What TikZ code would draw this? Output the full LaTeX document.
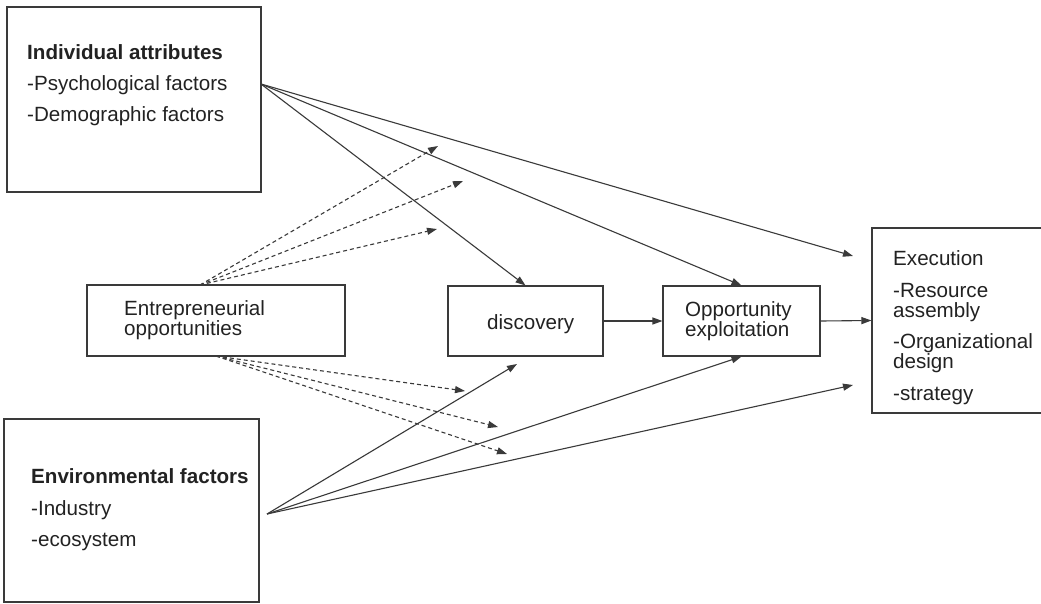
\documentclass[tikz,border=0pt]{standalone}
\usepackage{fontspec}
\setmainfont{Liberation Sans}
\usetikzlibrary{arrows.meta}
\definecolor{ink}{HTML}{3A3A3A}
\definecolor{txt}{HTML}{222222}
\begin{document}
\begin{tikzpicture}[x=1pt,y=-1pt,
  box/.style={draw=ink,line width=1.1pt,inner sep=0pt},
  lbl/.style={anchor=base west,inner sep=0pt,text=txt,font=\fontsize{20.6}{24}\selectfont},
  boldlbl/.style={lbl,font=\fontsize{20.6}{24}\selectfont\bfseries},
  conn/.style={draw=ink,line width=1.1pt,-{Triangle[length=10pt,width=7pt]}},
  dconn/.style={conn,dash pattern=on 4pt off 3pt}]
\useasboundingbox (0,0) rectangle (1041,603);
\fill[white] (0,0) rectangle (1041,603);
% boxes
\node[box,minimum width=254pt,minimum height=185pt] (ia) at (134,99.5) {};
\node[box,minimum width=258pt,minimum height=71pt] (ent) at (216,320.5) {};
\node[box,minimum width=255pt,minimum height=183pt] (env) at (131.5,510.5) {};
\node[box,minimum width=155pt,minimum height=70pt] (disc) at (525.5,321) {};
\node[box,minimum width=157pt,minimum height=70pt] (opp) at (741.5,321) {};
\node[box,minimum width=178pt,minimum height=185pt] (exe) at (961,320.5) {};
% texts
\node[boldlbl] (ia1) at (27,59) {Individual attributes};
\node[lbl] (ia2) at (27,90) {-Psychological factors};
\node[lbl] (ia3) at (27,121) {-Demographic factors};
\node[lbl] (ent1) at (124,315) {Entrepreneurial};
\node[lbl] (ent2) at (124,335) {opportunities};
\node[boldlbl] (env1) at (31,483) {Environmental factors};
\node[lbl] (env2) at (31,515) {-Industry};
\node[lbl] (env3) at (31,546) {-ecosystem};
\node[lbl] (disc1) at (487,329) {discovery};
\node[lbl] (opp1) at (685,316) {Opportunity};
\node[lbl] (opp2) at (685,336) {exploitation};
\node[lbl] (exe1) at (893,265) {Execution};
\node[lbl] (exe2) at (893,297) {-Resource};
\node[lbl] (exe3) at (893,317) {assembly};
\node[lbl] (exe4) at (893,348) {-Organizational};
\node[lbl] (exe5) at (893,368) {design};
\node[lbl] (exe6) at (893,400) {-strategy};
% connector points
\coordinate (iaout) at (261,84);
\coordinate (envout) at (267,514);
\coordinate (enttop) at (200,285);
\coordinate (entbot) at (216,356);
\coordinate (ex1) at (853,256);
\coordinate (ex2) at (853,385);
\coordinate (dtip) at (517,364);
\coordinate (u1) at (438,146);
\coordinate (u2) at (463,181);
\coordinate (u3) at (437,229);
\coordinate (l1) at (465,391);
\coordinate (l2) at (498,427);
\coordinate (l3) at (507,454);
% solid connectors
\draw[conn] (iaout) -- (disc.north);
\draw[conn] (iaout) -- (opp.north);
\draw[conn] (iaout) -- (ex1);
\draw[conn] (envout) -- (dtip);
\draw[conn] (envout) -- (opp.south);
\draw[conn] (envout) -- (ex2);
\draw[conn] (disc.east) -- (opp.west);
\draw[conn] (opp.east) -- (exe.west);
% dashed connectors
\draw[dconn] (enttop) -- (u1);
\draw[dconn] (enttop) -- (u2);
\draw[dconn] (enttop) -- (u3);
\draw[dconn] (entbot) -- (l1);
\draw[dconn] (entbot) -- (l2);
\draw[dconn] (entbot) -- (l3);
\end{tikzpicture}
\end{document}
